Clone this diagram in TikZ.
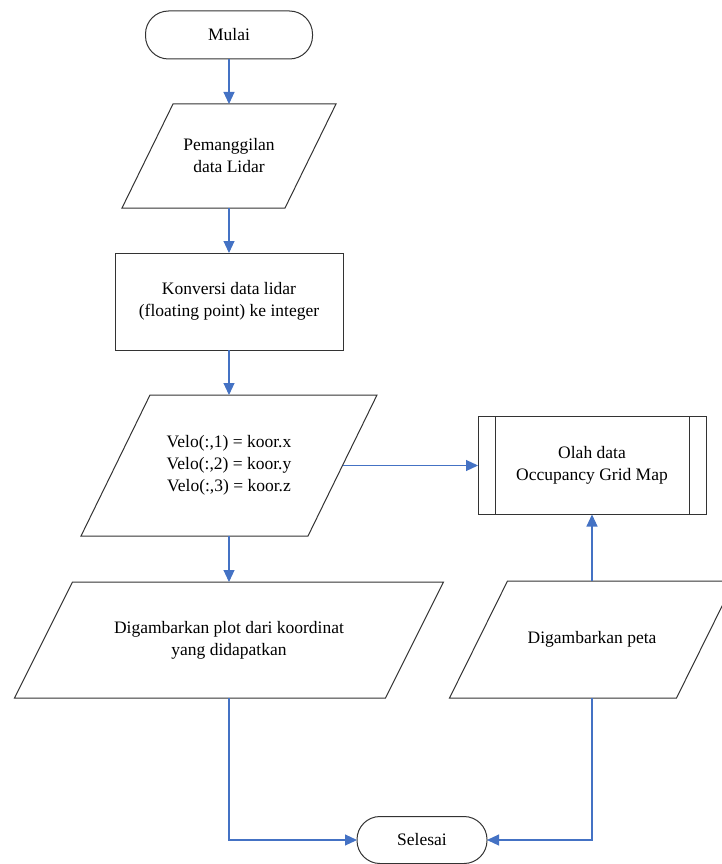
\documentclass[tikz,border=0pt]{standalone}
\usepackage{fontspec}
\setmainfont{Liberation Serif}
\usetikzlibrary{arrows.meta}
\definecolor{flowblue}{HTML}{4472C4}
\definecolor{edgegray}{HTML}{333333}
\begin{document}
\begin{tikzpicture}[x=1pt,y=-1pt,
    font=\fontsize{17.5}{22}\selectfont,
    terminal/.style={draw=edgegray,line width=1pt,rectangle,rounded corners=23pt,minimum height=48pt,align=center,outer sep=0pt},
    io/.style={rectangle,align=center,outer sep=0pt,
        append after command={\pgfextra{\draw[edgegray,line width=1pt,line join=miter]
            ([xshift=#1]\tikzlastnode.north west) -- ([xshift=#1]\tikzlastnode.north east) --
            ([xshift=-#1]\tikzlastnode.south east) -- ([xshift=-#1]\tikzlastnode.south west) -- cycle;}}},
    process/.style={draw=edgegray,line width=1pt,rectangle,align=center,outer sep=0pt},
    subproc/.style={process,path picture={
        \draw[edgegray,line width=1pt] ([xshift=17pt]path picture bounding box.north west) -- ([xshift=17pt]path picture bounding box.south west);
        \draw[edgegray,line width=1pt] ([xshift=-17pt]path picture bounding box.north east) -- ([xshift=-17pt]path picture bounding box.south east);}},
    flow/.style={draw=flowblue,line width=1.1pt,-{Triangle[length=12pt,width=11pt]}}]
    \useasboundingbox (0,0) rectangle (722,864);

    \node[terminal,minimum width=167pt] (mulai) at (229,35) {Mulai};
    \node[io=25.5pt,minimum width=163pt,minimum height=104pt] (lidar) at (229,156) {Pemanggilan\\data Lidar};
    \node[process,minimum width=228pt,minimum height=97pt] (konversi) at (229,301.5) {Konversi data lidar\\(floating point) ke integer};
    \node[io=34.5pt,minimum width=227pt,minimum height=141pt] (velo) at (229,465.5) {Velo(:,1) = koor.x\\Velo(:,2) = koor.y\\Velo(:,3) = koor.z};
    \node[subproc,minimum width=228pt,minimum height=98pt] (olah) at (592,465.5) {Olah data\\Occupancy Grid Map};
    \node[io=29pt,minimum width=371pt,minimum height=116pt] (plot) at (229,640) {Digambarkan plot dari koordinat\\yang didapatkan};
    \node[io=29pt,minimum width=227pt,minimum height=117pt] (peta) at (592,639.5) {Digambarkan peta};
    \node[terminal,minimum width=130pt,minimum height=47pt] (selesai) at (422,840) {Selesai};

    \draw[flow] (mulai.south) -- (lidar.north);
    \draw[flow] (lidar.south) -- (konversi.north);
    \draw[flow] (konversi.south) -- (velo.north);
    \draw[flow] (velo.east) -- (olah.west);
    \draw[flow] (velo.south) -- (plot.north);
    \draw[flow] (peta.north) -- (olah.south);
    \draw[flow] (plot.south) |- (selesai.west);
    \draw[flow] (peta.south) |- (selesai.east);
\end{tikzpicture}
\end{document}
